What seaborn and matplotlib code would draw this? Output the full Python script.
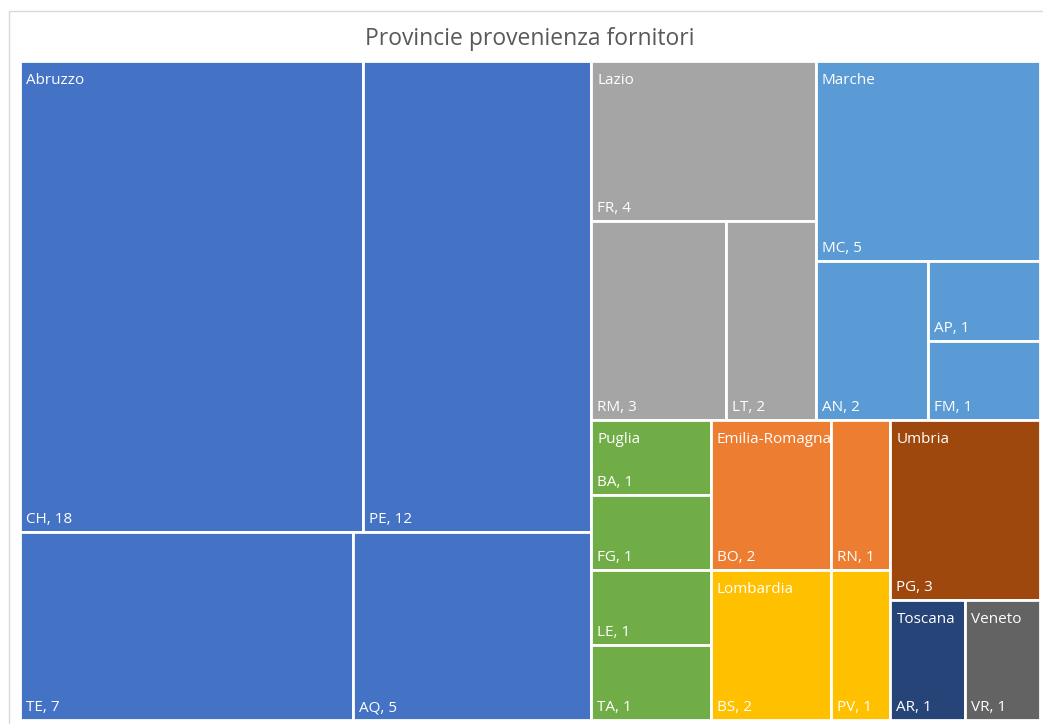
import matplotlib
matplotlib.use("Agg")
import matplotlib.pyplot as plt
from matplotlib.patches import Rectangle
import seaborn as sns
import pandas as pd

# dati: fornitori per provincia
regione = ["Abruzzo", "Abruzzo", "Abruzzo", "Abruzzo",
           "Lazio", "Lazio", "Lazio",
           "Marche", "Marche", "Marche", "Marche",
           "Puglia", "Puglia", "Puglia", "Puglia",
           "Emilia-Romagna", "Emilia-Romagna",
           "Lombardia", "Lombardia",
           "Umbria", "Toscana", "Veneto"]
provincia = ["CH", "PE", "TE", "AQ",
             "FR", "RM", "LT",
             "MC", "AN", "AP", "FM",
             "BA", "FG", "LE", "TA",
             "BO", "RN",
             "BS", "PV",
             "PG", "AR", "VR"]
fornitori = [18, 12, 7, 5,
             4, 3, 2,
             5, 2, 1, 1,
             1, 1, 1, 1,
             2, 1,
             2, 1,
             3, 1, 1]

# colori tema Office, assegnati alle regioni in ordine alfabetico
office = ["#4472C4", "#ED7D31", "#A5A5A5", "#FFC000", "#5B9BD5",
          "#70AD47", "#264478", "#9E480E", "#636363"]

# Excel groups strips a bit differently from plain squarify at these levels
strip_override = {"__top__": [1, 2, 1, 2, 1, 1, 1], "Abruzzo": [2, 1, 1]}


def worst(row, side):
    s = sum(row)
    t = s / side
    return max(max(t / (a / t), (a / t) / t) for a in row)


def squarify(areas, x, y, w, h, strips=None):
    rects = []
    i = 0
    k = 0
    areas = list(areas)
    while i < len(areas):
        side = min(w, h)
        if strips is not None and k < len(strips):
            n = strips[k]
        else:
            n = 1
            while i + n < len(areas) and \
                    worst(areas[i:i + n + 1], side) <= worst(areas[i:i + n], side):
                n += 1
        row = areas[i:i + n]
        s = sum(row)
        if w >= h:
            cw = s / h
            yy = y
            for a in row:
                rh = a / cw
                rects.append((x, yy, cw, rh))
                yy += rh
            x += cw
            w -= cw
        else:
            rh = s / w
            xx = x
            for a in row:
                cw = a / rh
                rects.append((xx, y, cw, rh))
                xx += cw
            y += rh
            h -= rh
        i += n
        k += 1
    return rects


df = pd.DataFrame({"regione": regione, "provincia": provincia, "n": fornitori})
colori = dict(zip(sorted(df["regione"].unique()), office))
tot = df.groupby("regione", sort=False)["n"].sum().reset_index()
tot = tot.sort_values(["n", "regione"], ascending=[False, True]).reset_index(drop=True)

sns.set_theme(style="white")
plt.rcParams["font.family"] = ["Open Sans", "DejaVu Sans"]

fig = plt.figure(figsize=(10.43, 7.24), dpi=100)
ax = fig.add_axes([0, 0, 1, 1])
ax.set_xlim(0, 1043)
ax.set_ylim(724, 0)
ax.axis("off")

# cornice grafico
ax.plot([8.5, 8.5, 1043], [724, 10.5, 10.5], color="#D9D9D9", lw=1.0)

X0, Y0, W, H = 20, 61, 1020, 659
scale = W * H / tot["n"].sum()
grp_rects = squarify(tot["n"] * scale, X0, Y0, W, H, strip_override["__top__"])

for (gx, gy, gw, gh), reg in zip(grp_rects, tot["regione"]):
    sub = df[df["regione"] == reg].sort_values("n", ascending=False, kind="stable")
    leaf = squarify(sub["n"] * scale, gx, gy, gw, gh, strip_override.get(reg))
    for (lx, ly, lw, lh), (_, r) in zip(leaf, sub.iterrows()):
        ax.add_patch(Rectangle((lx, ly), lw, lh, facecolor=colori[reg],
                               edgecolor="white", lw=2.0))
        ax.text(lx + 6, ly + lh - 9, f"{r['provincia']}, {r['n']}",
                color="white", fontsize=11, va="baseline", ha="left")
    ax.text(gx + 6, gy + 12, reg, color="white", fontsize=11, va="top", ha="left")

ax.text(530, 39, "Provincie provenienza fornitori", color="#595959",
        fontsize=16.5, ha="center", va="center")

fig.savefig("out.png", dpi=100)
